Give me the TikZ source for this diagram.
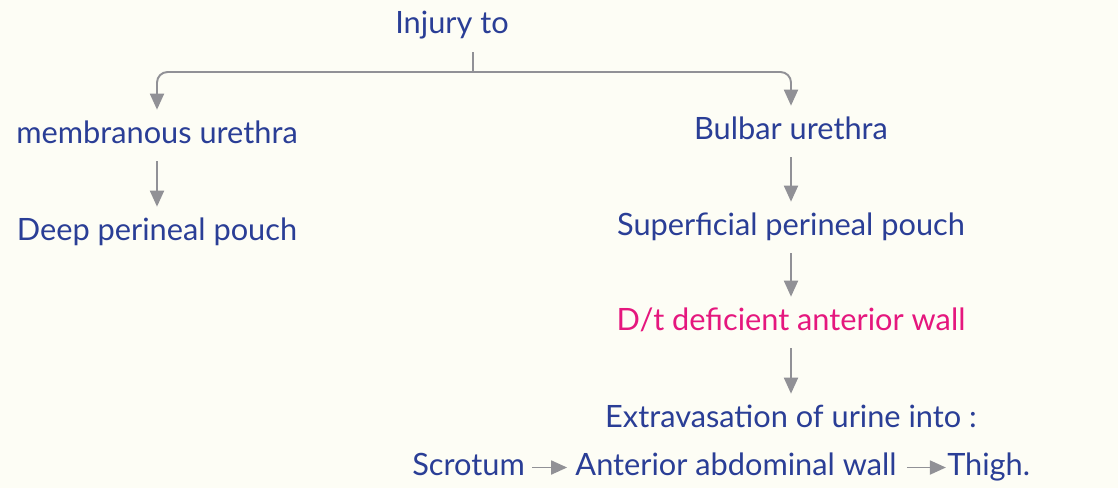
\documentclass[tikz,border=0pt]{standalone}
\usepackage{fontspec}
\setmainfont{Lato}
\usetikzlibrary{arrows.meta,positioning}
\definecolor{figBg}{RGB}{253,253,245}
\definecolor{figB}{RGB}{42,62,150}
\definecolor{figP}{RGB}{229,23,126}
\definecolor{figG}{RGB}{145,145,150}

\begin{document}
\begin{tikzpicture}[x=0.02cm,y=-0.02cm,
  lbl/.style={anchor=base,inner sep=0pt,text height=0.4cm,text depth=0.1cm,
    font=\fontsize{17.5}{21}\selectfont,text=figB},
  conn/.style={-{Triangle[length=3.2mm,width=2.8mm]},figG,line width=1.1pt,
    shorten <=0.26cm,shorten >=0.26cm}]
% ---------- background ----------
\fill[figBg] (0,0) rectangle (1118,488);
\useasboundingbox (0,0) rectangle (1118,488);
% ---------- labels ----------
\node[lbl] (inj) at (452,33) {Injury to};
\node[lbl] (mem) at (157,143) {membranous urethra};
\node[lbl] (deep) at (157,240) {Deep perineal pouch};
\node[lbl] (bulb) at (791,139) {Bulbar urethra};
\node[lbl] (sup) at (791,235) {Superficial perineal pouch};
\node[lbl,text=figP] (dt) at (791,330) {D/t deficient anterior wall};
\node[lbl] (ext) at (791,427) {Extravasation of urine into :};
% bottom row
\node[lbl] (ant) at (736,475) {Anterior abdominal wall};
\node[lbl,base left=1.0cm of ant.base west] (scr) {Scrotum};
\node[lbl,base right=1.0cm of ant.base east] (thi) {Thigh.};
% ---------- split ----------
\coordinate (split) at (473,72);
\draw[figG,line width=1.1pt,shorten <=0.28cm] (inj.south-|split) -- (split);
\draw[conn,rounded corners=6pt,shorten <=0pt] (split) -| (mem.north);
\draw[conn,rounded corners=6pt,shorten <=0pt] (split) -| (bulb.north);
% ---------- chains ----------
\draw[conn] (mem) -- (deep);
\draw[conn] (bulb) -- (sup);
\draw[conn] (sup) -- (dt);
\draw[conn] (dt) -- (ext);
\draw[conn,shorten <=0.14cm,shorten >=0.16cm] (scr.east) -- (ant.west);
\draw[conn,shorten <=0.2cm,shorten >=0.02cm] (ant.east) -- (thi.west);
\end{tikzpicture}
\end{document}
